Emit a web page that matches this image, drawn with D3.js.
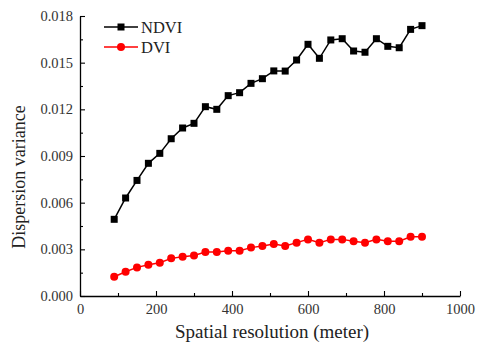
<!DOCTYPE html>
<html><head><meta charset="utf-8">
<script src="https://cdn.jsdelivr.net/npm/d3@7/dist/d3.min.js"></script>
<style>body{margin:0;background:#fff}svg{display:block}</style>
</head><body>
<svg id="c" width="478" height="347"></svg>
<script>
const resolution = [90,120,150,180,210,240,270,300,330,360,390,420,450,480,510,540,570,600,630,660,690,720,750,780,810,840,870,900];
const ndvi = [0.00493,0.0063,0.00743,0.00853,0.00917,0.01011,0.0108,0.0111,0.01217,0.0120,0.01288,0.01307,0.01367,0.01397,0.01447,0.01446,0.01517,0.01618,0.01528,0.01646,0.01654,0.01575,0.01567,0.01654,0.01605,0.01596,0.01714,0.01738];
const dvi = [0.00124,0.00156,0.00184,0.00201,0.00214,0.00242,0.00253,0.00261,0.00283,0.00283,0.00291,0.00291,0.00311,0.00321,0.00334,0.00321,0.00343,0.00364,0.00343,0.00364,0.00364,0.00352,0.00343,0.00364,0.00352,0.00352,0.00381,0.00381];
const xTicks = [0,200,400,600,800,1000];
const yTicks = [0,0.003,0.006,0.009,0.012,0.015,0.018];
const seriesNames = ["NDVI","DVI"];

const svg = d3.select("#c");
const font = "'Liberation Serif','Times New Roman',serif";
const x = d3.scaleLinear().domain([0,1000]).range([80,460]);
const y = d3.scaleLinear().domain([0,0.018]).range([296,16]);

const xMinor = d3.range(100,1000,200);
const yMinor = d3.range(0.0015,0.018,0.003);

// axes
const ax = svg.append("g").attr("transform","translate(0,296)")
  .call(d3.axisBottom(x).tickValues(xTicks).tickSizeInner(-5).tickSizeOuter(0).tickPadding(10).tickFormat(d3.format("d")));
svg.append("g").attr("transform","translate(0,296)")
  .call(d3.axisBottom(x).tickValues(xMinor).tickSizeInner(-3).tickSizeOuter(0).tickFormat(""))
  .select(".domain").remove();
const ay = svg.append("g").attr("transform","translate(80,0)")
  .call(d3.axisLeft(y).tickValues(yTicks).tickSizeInner(-5).tickSizeOuter(0).tickPadding(7).tickFormat(d3.format(".3f")));
svg.append("g").attr("transform","translate(80,0)")
  .call(d3.axisLeft(y).tickValues(yMinor).tickSizeInner(-3).tickSizeOuter(0).tickFormat(""))
  .select(".domain").remove();
svg.selectAll(".domain").attr("stroke","#000").attr("stroke-width",1.3);
svg.selectAll(".tick line").attr("stroke","#000").attr("stroke-width",1.1);
svg.selectAll(".tick text").attr("font-family",font).attr("font-size",14.5).attr("fill","#333");
ax.selectAll(".tick text").attr("dy","0.55em");

// titles
svg.append("text").attr("x",272).attr("y",338).attr("text-anchor","middle")
  .attr("font-family",font).attr("font-size",19).attr("fill","#222").text("Spatial resolution (meter)");
svg.append("text").attr("transform","translate(25,177) rotate(-90)").attr("text-anchor","middle")
  .attr("font-family",font).attr("font-size",18).attr("fill","#222").text("Dispersion variance");

const line = d3.line().x((d,i)=>x(resolution[i])).y(d=>y(d));
const colors = ["#000000","#ff0000"];
[ndvi,dvi].forEach((s,k)=>{
  svg.append("path").datum(s).attr("d",line).attr("fill","none").attr("stroke",colors[k]).attr("stroke-width",1.5);
});
svg.append("g").selectAll("rect").data(ndvi).join("rect")
  .attr("x",(d,i)=>x(resolution[i])-3.5).attr("y",d=>y(d)-3.5).attr("width",7).attr("height",7).attr("fill","#000");
svg.append("g").selectAll("circle").data(dvi).join("circle")
  .attr("cx",(d,i)=>x(resolution[i])).attr("cy",d=>y(d)).attr("r",4).attr("fill","#ff0000");

// legend
const leg = svg.append("g");
seriesNames.forEach((n,k)=>{
  const ly = 27 + k*20;
  leg.append("line").attr("x1",104).attr("x2",138).attr("y1",ly).attr("y2",ly).attr("stroke",colors[k]).attr("stroke-width",1.5);
  if(k===0) leg.append("rect").attr("x",117.5).attr("y",ly-3.5).attr("width",7).attr("height",7).attr("fill","#000");
  else leg.append("circle").attr("cx",121).attr("cy",ly).attr("r",4).attr("fill","#ff0000");
  leg.append("text").attr("x",141).attr("y",ly).attr("dy","0.35em").attr("font-family",font).attr("font-size",16.5).attr("fill","#222").text(n);
});
</script>
</body></html>
